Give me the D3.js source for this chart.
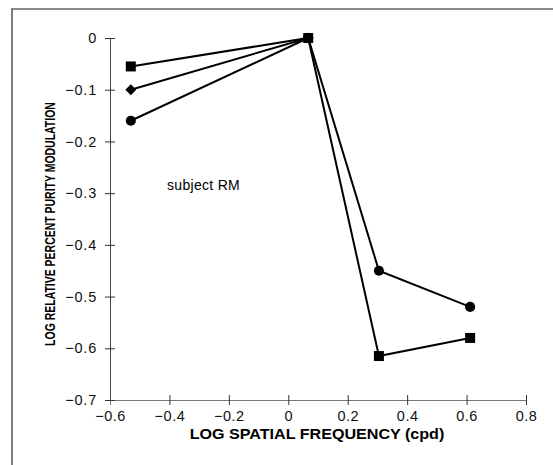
<!DOCTYPE html>
<html>
<head>
<meta charset="utf-8">
<script src="https://cdn.jsdelivr.net/npm/d3@7"></script>
<style>
  body { margin: 0; background: #fff; }
  svg { display: block; font-family: "Liberation Sans", Arial, sans-serif; }
</style>
</head>
<body>
<svg id="graph" width="553" height="465"></svg>
<script>
// log spatial frequency (cpd)
var freqs = [-0.53, 0.067, 0.305, 0.612];
// log relative percent purity modulation, subject RM
var squareVals = [-0.055, 0, -0.615, -0.58];
var diamondVals = [-0.1, 0];
var circleVals = [-0.16, 0, -0.45, -0.52];
var xTicks = [-0.6, -0.4, -0.2, 0, 0.2, 0.4, 0.6, 0.8];
var yTicks = [0, -0.1, -0.2, -0.3, -0.4, -0.5, -0.6, -0.7];

var svg = d3.select("#graph");
var width = 553, height = 465;
var margin = { top: 38, right: 27, bottom: 65, left: 110 };

var x = d3.scaleLinear()
    .domain([-0.6, 0.8])
    .range([margin.left, width - margin.right]);
var y = d3.scaleLinear()
    .domain([-0.7, 0])
    .range([height - margin.bottom, margin.top]);

var fmt = d3.format(".1~f");

// outer frame (left and top only survive in the scan)
svg.append("line").attr("x1", 12).attr("x2", 12).attr("y1", 9).attr("y2", 465)
    .attr("stroke", "#555").attr("stroke-width", 1.5);
svg.append("line").attr("x1", 11).attr("x2", 553).attr("y1", 9).attr("y2", 9)
    .attr("stroke", "#666").attr("stroke-width", 1.5);

var xAxis = g => g
    .attr("transform", `translate(0,${y(-0.7)})`)
    .call(d3.axisBottom(x).tickValues(xTicks).tickFormat(fmt).tickSize(5).tickPadding(6))
    .call(g => g.select(".domain").attr("stroke", "#777"))
    .call(g => g.selectAll(".tick line").attr("y1", -5).attr("stroke", "#333"))
    .call(g => g.selectAll(".tick text").attr("font-size", 14.5).attr("fill", "#111")
        .attr("letter-spacing", 0.5))
    .call(g => g.select(".tick:first-of-type line").remove());

var yAxis = g => g
    .attr("transform", `translate(${margin.left},0)`)
    .call(d3.axisLeft(y).tickValues(yTicks).tickFormat(fmt).tickSize(5).tickPadding(8))
    .call(g => g.select(".domain").attr("stroke", "#444"))
    .call(g => g.selectAll(".tick line").attr("x1", 5).attr("stroke", "#333"))
    .call(g => g.selectAll(".tick text").attr("font-size", 14.5).attr("fill", "#111")
        .attr("letter-spacing", 0.8));

svg.append("g").call(xAxis);
svg.append("g").call(yAxis);

// axis titles, squeezed horizontally like the narrow print face
function squeeze(t, want, base) {
    var w = t.node().getComputedTextLength();
    t.attr("transform", base + ` scale(${want / w},1)`);
}

var xt = svg.append("text")
    .attr("text-anchor", "middle")
    .attr("font-size", 14).attr("font-weight", "bold")
    .text("LOG SPATIAL FREQUENCY (cpd)");
squeeze(xt, 255, "translate(317,439)");

var yt = svg.append("text")
    .attr("text-anchor", "middle")
    .attr("font-size", 15.5).attr("font-weight", "bold")
    .text("LOG RELATIVE PERCENT PURITY MODULATION");
squeeze(yt, 244, "translate(55,224) rotate(-90)");

svg.append("text")
    .attr("x", 167).attr("y", 190)
    .attr("font-size", 14)
    .attr("letter-spacing", 0.3)
    .text("subject RM");

var series = [
    { vals: squareVals, symbol: d3.symbolSquare, size: 100, rot: 0 },
    { vals: diamondVals, symbol: d3.symbolSquare, size: 60, rot: 45 },
    { vals: circleVals, symbol: d3.symbolCircle, size: 80, rot: 0 }
];

var line = d3.line()
    .x(d => x(d[0]))
    .y(d => y(d[1]));

series.forEach(function(s) {
    var pts = s.vals.map((v, i) => [freqs[i], v]);
    svg.append("path")
        .datum(pts)
        .attr("fill", "none")
        .attr("stroke", "#000")
        .attr("stroke-width", 2)
        .attr("d", line);
    svg.append("g").selectAll("path")
        .data(pts)
        .join("path")
        .attr("transform", d => `translate(${x(d[0])},${y(d[1])}) rotate(${s.rot})`)
        .attr("d", d3.symbol().type(s.symbol).size(s.size))
        .attr("fill", "#000");
});
</script>
</body>
</html>
